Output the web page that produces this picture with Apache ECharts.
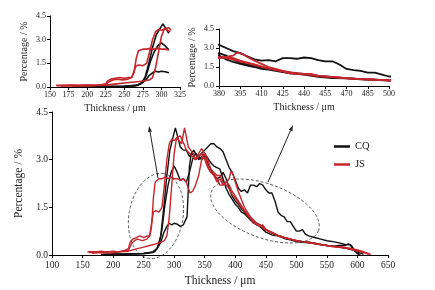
<!DOCTYPE html>
<html>
<head>
<meta charset="utf-8">
<script src="https://cdn.jsdelivr.net/npm/echarts/dist/echarts.min.js"></script>
<style>
  html, body { margin: 0; padding: 0; background: #fff; }
  #chart { width: 435px; height: 290px; }
</style>
</head>
<body>
<div id="chart"></div>
<script type="text/javascript">
// thickness (um), percentage (%)
var cq1 = [[180,0.02],[200,0.03],[230,0.03],[250,0.04],[265,0.08],[272,0.2],[278,0.6],[283,1.5],[288,2.5],[293,3.3],[298,3.7],[302,4.0],[306,3.7],[310,3.4],[315,3.3],[320,3.3],[325,3.1],[330,3.2],[335,3.0],[340,3.1],[345,3.2],[350,3.3],[355,3.4],[360,3.5],[365,3.5],[370,3.4],[375,3.35],[380,3.25],[385,3.0],[390,2.75],[395,2.6],[400,2.35],[405,2.1],[410,2.0],[415,2.05],[420,1.95],[425,2.2],[430,2.2],[435,2.15],[440,2.25],[445,2.2],[450,2.05],[455,1.95],[460,1.95],[465,1.7],[470,1.35],[475,1.25],[480,1.2],[485,1.05],[490,1.05],[495,0.9],[500,0.75],[505,0.75],[510,0.8],[515,0.65],[520,0.6],[530,0.55],[540,0.5],[550,0.45],[560,0.42],[570,0.38],[580,0.33],[588,0.32],[592,0.2],[600,0.05],[605,0]];
var cq2 = [[185,0.02],[220,0.03],[250,0.05],[268,0.1],[275,0.3],[280,0.8],[285,1.6],[290,2.2],[295,2.6],[300,2.8],[305,2.6],[310,2.35],[315,2.4],[320,2.3],[325,2.6],[330,3.0],[335,3.2],[340,3.1],[345,3.0],[350,3.1],[355,2.9],[360,2.7],[365,2.5],[370,2.4],[375,2.45],[380,2.6],[385,2.4],[390,2.1],[395,1.85],[400,1.7],[405,1.6],[410,1.45],[415,1.35],[420,1.25],[425,1.15],[430,1.05],[440,0.95],[450,0.8],[460,0.7],[470,0.62],[480,0.55],[490,0.5],[500,0.45],[510,0.42],[520,0.4],[530,0.37],[540,0.33],[550,0.3],[560,0.27],[570,0.24],[580,0.22],[590,0.17],[600,0.1],[610,0.02]];
var cq3 = [[190,0.02],[220,0.03],[250,0.05],[265,0.1],[272,0.2],[278,0.4],[283,0.7],[288,0.9],[292,1.0],[296,0.95],[300,1.0],[305,0.97],[310,0.9],[315,0.95],[318,0.95],[321,1.2],[323,2.0],[325,2.8],[328,3.2],[332,3.3],[336,3.15],[340,3.0],[345,3.1],[350,3.2],[355,3.05],[360,2.9],[365,2.8],[370,2.75],[375,2.7],[380,2.4],[385,2.1],[390,1.9],[395,1.75],[400,1.6],[405,1.5],[410,1.35],[415,1.3],[420,1.2],[425,1.1],[430,1.0],[440,0.9],[450,0.72],[460,0.63],[470,0.6],[480,0.52],[490,0.48],[500,0.42],[510,0.4],[520,0.38],[530,0.36],[540,0.33],[550,0.3],[560,0.28],[570,0.3],[580,0.3],[585,0.35],[590,0.3],[595,0.15],[600,0.05],[603,0]];
var js1 = [[158,0.1],[170,0.1],[180,0.12],[190,0.1],[200,0.12],[210,0.1],[220,0.15],[225,0.2],[228,0.4],[232,0.5],[238,0.55],[244,0.6],[250,0.55],[256,0.6],[260,0.6],[263,0.9],[266,1.8],[269,2.3],[275,2.4],[280,2.4],[285,2.45],[290,2.4],[295,2.45],[300,2.4],[305,2.4],[310,2.35],[315,2.4],[320,2.3],[323,2.1],[326,1.95],[330,2.0],[335,2.2],[340,2.5],[345,3.0],[350,3.2],[355,2.8],[360,2.6],[365,2.5],[370,2.3],[375,2.4],[380,2.2],[385,2.3],[390,2.4],[393,2.65],[397,2.5],[400,2.3],[405,2.0],[410,1.75],[415,1.5],[420,1.35],[425,1.2],[430,1.1],[435,1.0],[440,0.95],[445,0.9],[450,0.82],[455,0.75],[460,0.7],[470,0.6],[480,0.55],[490,0.5],[500,0.45],[510,0.42],[520,0.4],[530,0.37],[540,0.33],[550,0.3],[560,0.27],[570,0.25],[580,0.22],[590,0.18],[600,0.12],[610,0.08],[620,0.02]];
var js2 = [[160,0.08],[175,0.1],[190,0.1],[205,0.1],[215,0.12],[225,0.15],[230,0.35],[235,0.45],[240,0.5],[248,0.45],[255,0.5],[260,0.6],[263,1.0],[266,1.35],[270,1.4],[275,1.35],[280,1.5],[284,2.2],[288,3.0],[292,3.5],[296,3.65],[300,3.6],[305,3.7],[310,3.75],[313,3.6],[316,3.5],[320,3.3],[325,3.2],[330,3.1],[335,3.0],[340,3.2],[345,3.35],[350,3.2],[355,3.0],[360,2.7],[365,2.6],[370,2.5],[375,2.5],[380,2.3],[385,2.2],[390,2.1],[395,1.9],[400,1.8],[405,1.65],[410,1.5],[415,1.4],[420,1.3],[425,1.15],[430,1.0],[435,1.0],[440,0.9],[445,0.95],[450,0.8],[460,0.72],[470,0.62],[480,0.55],[490,0.5],[500,0.46],[510,0.42],[520,0.38],[530,0.36],[540,0.33],[550,0.3],[560,0.28],[570,0.26],[580,0.24],[590,0.2],[600,0.15],[610,0.1],[618,0.03]];
var js3 = [[165,0.05],[180,0.08],[195,0.06],[210,0.1],[225,0.12],[240,0.2],[250,0.25],[260,0.3],[270,0.35],[278,0.4],[284,0.45],[288,0.6],[292,1.2],[296,2.2],[300,3.2],[304,3.7],[308,3.6],[312,3.5],[315,3.8],[317,4.0],[320,3.7],[323,3.4],[327,3.3],[331,3.2],[335,3.0],[340,3.1],[345,3.2],[350,3.0],[355,2.75],[360,2.6],[365,2.55],[370,2.4],[375,2.2],[380,2.2],[385,2.3],[390,2.2],[395,2.0],[400,1.85],[405,1.7],[410,1.55],[415,1.4],[420,1.25],[425,1.15],[430,1.05],[435,0.95],[440,0.95],[445,0.85],[450,0.78],[460,0.7],[470,0.62],[480,0.55],[490,0.5],[500,0.45],[510,0.42],[520,0.4],[530,0.35],[540,0.32],[550,0.3],[560,0.26],[570,0.25],[580,0.22],[590,0.2],[600,0.16],[610,0.1],[622,0.02]];

var groups = [
    { name: 'CQ', color: '#111111', curves: [cq1, cq2, cq3] },
    { name: 'JS', color: '#c4262b', curves: [js1, js2, js3] }
];

var insetEnd = 313;      // left inset only shows the rise
var rightStart = 380;    // right inset axis offset

var font = 'Liberation Serif';
var txt = '#222';

function valAxis(gi, min, max, step, fs, name, gap, fmt, labelMargin) {
    return {
        type: 'value', gridIndex: gi, min: min, max: max, interval: step,
        name: name, nameLocation: 'middle', nameGap: gap,
        nameTextStyle: { fontFamily: font, fontSize: fs + 2, color: txt },
        axisLine: { show: true, onZero: false, lineStyle: { color: '#000', width: 1 } },
        axisTick: { show: true, inside: false, length: 3, lineStyle: { color: '#000' } },
        splitLine: { show: false },
        axisLabel: { fontFamily: font, fontSize: fs, color: txt, margin: labelMargin, formatter: fmt }
    };
}
function oneDec(v) { return v.toFixed(1); }

var xAxes = [
    valAxis(0, 100, 650, 50, 9.5, 'Thickness / μm', 20, null, 5),
    valAxis(1, 150, 325, 25, 8, 'Thickness / μm', 16, null, 4),
    valAxis(2, 0, 120, 15, 8, 'Thickness / μm', 16, function (v) { return v + rightStart; }, 4)
];
var yAxes = [
    valAxis(0, 0, 4.5, 1.5, 9.5, 'Percentage / %', 22, oneDec, 4),
    valAxis(1, 0, 4.5, 1.5, 8, 'Percentage / %', 21, oneDec, 4),
    valAxis(2, 0, 4.5, 1.5, 8, 'Percentage / %', 22, oneDec, 5)
];
yAxes.forEach(function (a) { a.nameRotate = 90; });

var series = [];
groups.forEach(function (g) {
    g.curves.forEach(function (c) {
        series.push({
            name: g.name, type: 'line', xAxisIndex: 0, yAxisIndex: 0,
            data: c, showSymbol: false, clip: true,
            lineStyle: { color: g.color, width: 1.4 }, itemStyle: { color: g.color }
        });
        series.push({
            name: g.name, type: 'line', xAxisIndex: 1, yAxisIndex: 1,
            data: c.filter(function (p) { return p[0] <= insetEnd; }),
            showSymbol: false, clip: true,
            lineStyle: { color: g.color, width: 1.6 }, itemStyle: { color: g.color }
        });
        series.push({
            name: g.name, type: 'line', xAxisIndex: 2, yAxisIndex: 2,
            data: c.map(function (p) { return [p[0] - rightStart, p[1]]; }),
            showSymbol: false, clip: true,
            lineStyle: { color: g.color, width: 1.8 }, itemStyle: { color: g.color }
        });
    });
});

// dashed ellipses + arrows (annotation, pixel space)
function ellipse(cx, cy, a, b, deg) {
    var phi = deg * Math.PI / 180, pts = [];
    for (var i = 0; i < 72; i++) {
        var t = i / 72 * 2 * Math.PI;
        pts.push([cx + a * Math.cos(t) * Math.cos(phi) - b * Math.sin(t) * Math.sin(phi),
                  cy + a * Math.cos(t) * Math.sin(phi) + b * Math.sin(t) * Math.cos(phi)]);
    }
    return { type: 'polygon', silent: true, z: 50, shape: { points: pts },
             style: { fill: 'none', stroke: '#333', lineWidth: 0.8, lineDash: [3, 2] } };
}
function arrow(x0, y0, x1, y1) {
    var dx = x1 - x0, dy = y1 - y0, L = Math.sqrt(dx * dx + dy * dy);
    var ux = dx / L, uy = dy / L, hl = 6, hw = 2;
    var bx = x1 - ux * hl, by = y1 - uy * hl;
    return [
        { type: 'line', silent: true, z: 50, shape: { x1: x0, y1: y0, x2: bx, y2: by },
          style: { stroke: '#222', lineWidth: 1 } },
        { type: 'polygon', silent: true, z: 50,
          shape: { points: [[x1, y1], [bx - uy * hw, by + ux * hw], [bx + uy * hw, by - ux * hw]] },
          style: { fill: '#222' } }
    ];
}

var graphics = [ellipse(156, 216, 43, 27, -80), ellipse(265, 211, 57, 27, 20)]
    .concat(arrow(158, 178, 149, 126))
    .concat(arrow(268, 182, 293, 125));

var chart = echarts.init(document.getElementById('chart'), null, { renderer: 'canvas' });
chart.setOption({
    animation: false,
    backgroundColor: '#fff',
    grid: [
        { left: 52, right: 47, top: 112, bottom: 35, outerBoundsMode: 'none' },
        { left: 50, right: 255, top: 16, bottom: 203, outerBoundsMode: 'none' },
        { left: 219, right: 46, top: 29, bottom: 204, outerBoundsMode: 'none' }
    ],
    legend: {
        data: ['CQ', 'JS'], orient: 'vertical', left: 329, top: 136,
        icon: 'rect', itemWidth: 16, itemHeight: 2.5, itemGap: 7,
        selectedMode: false,
        textStyle: { fontFamily: font, fontSize: 10.5, color: txt }
    },
    xAxis: xAxes,
    yAxis: yAxes,
    series: series,
    graphic: graphics
});
</script>
</body>
</html>
